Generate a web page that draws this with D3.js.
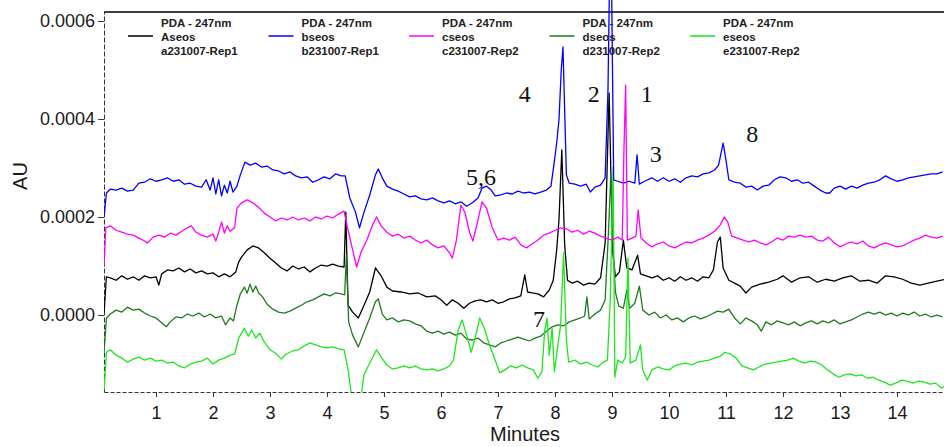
<!DOCTYPE html>
<html>
<head>
<meta charset="utf-8">
<script src="https://cdn.jsdelivr.net/npm/d3@7/dist/d3.min.js"></script>
<style>
body { margin: 0; background: #fff; overflow: hidden; }
svg { display: block; }
</style>
</head>
<body>
<script>
// absorbance values are in units of 1e-4 AU, pairs are [minutes, value]
let aseos = [[0.09,0.05],[0.13,0.78],[0.2,0.76],[0.3,0.71],[0.4,0.8],[0.5,0.73],[0.6,0.78],[0.7,0.71],[0.8,0.8],[0.9,0.76],[1.0,0.78],[1.05,0.61],[1.1,0.84],[1.2,0.92],[1.3,0.9],[1.4,0.96],[1.5,0.88],[1.6,0.94],[1.7,0.86],[1.8,0.9],[1.9,0.84],[2.0,0.86],[2.1,0.78],[2.2,0.84],[2.3,0.78],[2.4,0.88],[2.45,1.08],[2.5,1.18],[2.6,1.33],[2.7,1.41],[2.8,1.37],[2.9,1.27],[3.0,1.16],[3.1,1.06],[3.2,0.96],[3.3,0.9],[3.4,1.0],[3.5,0.94],[3.6,0.98],[3.7,0.88],[3.8,0.96],[3.9,1.02],[4.0,1.0],[4.1,1.04],[4.2,1.0],[4.3,0.98],[4.33,2.1],[4.37,0.2],[4.45,0.06],[4.55,-0.06],[4.65,0.2],[4.75,0.47],[4.85,0.96],[4.95,0.8],[5.05,0.57],[5.15,0.49],[5.3,0.47],[5.45,0.43],[5.6,0.45],[5.75,0.37],[5.9,0.39],[6.0,0.31],[6.1,0.2],[6.2,0.31],[6.3,0.24],[6.4,0.14],[6.5,0.24],[6.6,0.29],[6.7,0.31],[6.8,0.27],[6.9,0.31],[7.0,0.24],[7.1,0.27],[7.2,0.33],[7.3,0.35],[7.4,0.39],[7.47,0.82],[7.52,0.47],[7.6,0.45],[7.7,0.43],[7.8,0.37],[7.9,0.51],[7.97,0.71],[8.03,1.33],[8.07,1.94],[8.12,3.37],[8.17,1.43],[8.22,0.71],[8.3,0.65],[8.4,0.69],[8.5,0.61],[8.6,0.65],[8.7,0.63],[8.8,0.76],[8.88,1.47],[8.95,4.53],[9.01,1.33],[9.06,0.78],[9.13,0.88],[9.2,1.53],[9.26,0.96],[9.35,0.92],[9.45,1.22],[9.5,0.84],[9.6,0.8],[9.7,0.76],[9.8,0.8],[9.9,0.71],[10.0,0.76],[10.1,0.69],[10.2,0.78],[10.3,0.71],[10.4,0.76],[10.5,0.69],[10.6,0.78],[10.7,0.76],[10.78,0.92],[10.85,1.49],[10.9,1.59],[10.95,0.96],[11.05,0.71],[11.15,0.65],[11.25,0.59],[11.35,0.45],[11.45,0.57],[11.6,0.63],[11.75,0.67],[11.9,0.73],[12.0,0.8],[12.15,0.67],[12.3,0.76],[12.45,0.78],[12.6,0.67],[12.75,0.73],[12.9,0.69],[13.05,0.76],[13.2,0.8],[13.35,0.69],[13.5,0.71],[13.65,0.65],[13.8,0.8],[13.95,0.78],[14.1,0.73],[14.25,0.65],[14.4,0.61],[14.55,0.65],[14.7,0.69],[14.85,0.73]];

let bseos = [[0.09,2.0],[0.13,2.49],[0.2,2.57],[0.3,2.55],[0.4,2.59],[0.5,2.53],[0.6,2.55],[0.7,2.69],[0.8,2.71],[0.9,2.78],[1.0,2.73],[1.1,2.76],[1.2,2.8],[1.3,2.73],[1.4,2.76],[1.5,2.67],[1.6,2.69],[1.7,2.63],[1.8,2.61],[1.88,2.76],[1.95,2.55],[2.0,2.8],[2.05,2.47],[2.1,2.76],[2.15,2.43],[2.2,2.65],[2.25,2.49],[2.3,2.73],[2.35,2.51],[2.42,2.63],[2.48,2.86],[2.56,3.12],[2.65,3.06],[2.75,3.1],[2.85,3.02],[2.95,3.04],[3.05,2.96],[3.15,2.94],[3.25,2.88],[3.35,2.92],[3.45,2.84],[3.55,2.8],[3.65,2.82],[3.75,2.71],[3.85,2.76],[3.95,2.82],[4.05,2.78],[4.15,2.88],[4.25,2.84],[4.32,2.84],[4.4,2.39],[4.5,2.1],[4.57,1.78],[4.65,2.1],[4.75,2.45],[4.85,2.86],[4.9,2.98],[4.97,2.8],[5.05,2.63],[5.15,2.57],[5.25,2.53],[5.35,2.47],[5.45,2.41],[5.55,2.43],[5.65,2.37],[5.75,2.35],[5.85,2.39],[5.95,2.33],[6.05,2.29],[6.15,2.33],[6.25,2.27],[6.35,2.31],[6.45,2.22],[6.55,2.29],[6.65,2.39],[6.72,2.59],[6.8,2.63],[6.88,2.55],[6.95,2.43],[7.05,2.45],[7.15,2.49],[7.25,2.47],[7.35,2.53],[7.45,2.49],[7.55,2.51],[7.65,2.47],[7.75,2.51],[7.85,2.55],[7.93,2.63],[7.98,3.06],[8.03,3.51],[8.07,3.98],[8.11,5.0],[8.14,5.47],[8.17,4.18],[8.2,2.86],[8.25,2.69],[8.35,2.67],[8.45,2.63],[8.55,2.67],[8.62,2.51],[8.7,2.61],[8.8,2.65],[8.88,2.8],[8.93,4.59],[8.96,7.1],[8.99,7.1],[9.03,2.76],[9.1,2.73],[9.2,2.69],[9.3,2.73],[9.4,2.69],[9.44,3.27],[9.48,2.67],[9.57,2.73],[9.7,2.8],[9.8,2.73],[9.9,2.8],[10.0,2.73],[10.1,2.78],[10.2,2.71],[10.3,2.8],[10.4,2.84],[10.5,2.82],[10.6,2.88],[10.7,2.9],[10.8,2.96],[10.87,3.06],[10.95,3.51],[11.0,3.16],[11.05,2.76],[11.15,2.71],[11.25,2.69],[11.35,2.61],[11.45,2.63],[11.55,2.55],[11.65,2.63],[11.75,2.65],[11.85,2.76],[11.95,2.82],[12.05,2.8],[12.15,2.73],[12.25,2.76],[12.35,2.69],[12.45,2.71],[12.55,2.63],[12.65,2.55],[12.75,2.49],[12.82,2.49],[12.9,2.59],[13.0,2.63],[13.1,2.57],[13.2,2.63],[13.3,2.59],[13.4,2.65],[13.5,2.69],[13.6,2.71],[13.7,2.76],[13.8,2.84],[13.9,2.78],[14.0,2.73],[14.1,2.76],[14.2,2.8],[14.3,2.82],[14.4,2.84],[14.5,2.86],[14.6,2.88],[14.7,2.88],[14.8,2.92]];

let cseos = [[0.09,1.02],[0.12,1.78],[0.2,1.82],[0.3,1.73],[0.4,1.69],[0.5,1.65],[0.6,1.63],[0.7,1.57],[0.8,1.51],[0.85,1.47],[0.95,1.59],[1.05,1.63],[1.15,1.59],[1.25,1.67],[1.35,1.63],[1.45,1.71],[1.55,1.78],[1.62,1.82],[1.7,1.69],[1.8,1.63],[1.9,1.59],[2.0,1.65],[2.05,1.51],[2.1,1.69],[2.15,1.9],[2.2,1.67],[2.25,1.82],[2.3,1.71],[2.38,1.78],[2.42,2.18],[2.5,2.29],[2.6,2.35],[2.7,2.29],[2.8,2.2],[2.9,2.08],[3.0,2.0],[3.1,1.92],[3.2,1.98],[3.3,1.94],[3.4,2.0],[3.5,1.94],[3.6,1.98],[3.7,1.92],[3.8,2.0],[3.9,1.96],[4.0,2.02],[4.1,1.98],[4.2,2.06],[4.3,2.12],[4.37,1.73],[4.45,1.33],[4.52,0.98],[4.6,1.29],[4.7,1.53],[4.8,1.84],[4.87,2.0],[4.95,1.82],[5.05,1.69],[5.15,1.61],[5.25,1.65],[5.35,1.57],[5.45,1.61],[5.55,1.53],[5.65,1.47],[5.75,1.53],[5.85,1.43],[5.95,1.37],[6.05,1.41],[6.15,1.27],[6.2,1.16],[6.27,1.53],[6.35,2.24],[6.42,2.1],[6.5,1.69],[6.56,1.51],[6.63,1.84],[6.72,2.31],[6.8,2.18],[6.9,1.78],[7.0,1.53],[7.1,1.57],[7.2,1.53],[7.3,1.59],[7.4,1.43],[7.5,1.37],[7.6,1.45],[7.7,1.53],[7.8,1.63],[7.9,1.67],[8.0,1.73],[8.1,1.78],[8.2,1.76],[8.3,1.69],[8.4,1.73],[8.5,1.65],[8.6,1.71],[8.7,1.67],[8.8,1.61],[8.9,1.57],[9.0,1.53],[9.1,1.59],[9.18,1.53],[9.21,3.37],[9.24,4.69],[9.27,1.53],[9.35,1.57],[9.42,1.61],[9.46,2.14],[9.51,1.57],[9.6,1.47],[9.7,1.39],[9.8,1.45],[9.9,1.49],[10.0,1.41],[10.1,1.37],[10.2,1.43],[10.3,1.49],[10.4,1.47],[10.5,1.53],[10.6,1.57],[10.7,1.63],[10.8,1.71],[10.9,1.84],[10.97,2.0],[11.03,1.9],[11.1,1.61],[11.2,1.57],[11.3,1.53],[11.4,1.49],[11.5,1.53],[11.6,1.47],[11.7,1.43],[11.8,1.49],[11.9,1.57],[12.0,1.53],[12.1,1.61],[12.2,1.59],[12.3,1.63],[12.4,1.59],[12.5,1.61],[12.6,1.53],[12.7,1.51],[12.8,1.59],[12.9,1.47],[13.0,1.39],[13.1,1.45],[13.2,1.49],[13.3,1.45],[13.4,1.51],[13.5,1.41],[13.6,1.37],[13.7,1.43],[13.8,1.47],[13.9,1.43],[14.0,1.39],[14.1,1.41],[14.2,1.47],[14.3,1.53],[14.4,1.57],[14.5,1.63],[14.6,1.59],[14.7,1.57],[14.8,1.61]];

let dseos = [[0.09,-0.76],[0.13,-0.06],[0.2,0.02],[0.3,0.1],[0.4,0.06],[0.5,0.16],[0.6,0.1],[0.7,0.12],[0.8,0.04],[0.9,-0.02],[1.0,-0.06],[1.1,-0.16],[1.18,-0.24],[1.25,-0.14],[1.35,-0.04],[1.45,-0.06],[1.55,0.02],[1.65,-0.02],[1.75,0.04],[1.85,-0.04],[1.95,0.02],[2.05,-0.06],[2.15,-0.02],[2.22,-0.2],[2.3,-0.06],[2.36,-0.12],[2.42,0.2],[2.48,0.43],[2.55,0.57],[2.6,0.45],[2.65,0.63],[2.7,0.47],[2.75,0.59],[2.8,0.45],[2.87,0.37],[2.95,0.22],[3.05,0.12],[3.15,0.06],[3.25,0.04],[3.35,0.08],[3.45,0.14],[3.55,0.2],[3.65,0.27],[3.75,0.31],[3.85,0.37],[3.95,0.43],[4.05,0.39],[4.15,0.45],[4.25,0.43],[4.31,0.41],[4.34,1.22],[4.38,-0.14],[4.45,-0.41],[4.55,-0.65],[4.65,-0.35],[4.75,-0.06],[4.85,0.27],[4.9,0.33],[4.97,0.02],[5.05,-0.1],[5.15,-0.06],[5.25,-0.14],[5.35,-0.1],[5.45,-0.12],[5.55,-0.18],[5.65,-0.22],[5.75,-0.33],[5.85,-0.37],[5.95,-0.33],[6.05,-0.39],[6.15,-0.35],[6.25,-0.41],[6.35,-0.37],[6.45,-0.49],[6.55,-0.51],[6.65,-0.47],[6.75,-0.57],[6.85,-0.61],[6.95,-0.65],[7.05,-0.57],[7.15,-0.53],[7.25,-0.49],[7.35,-0.45],[7.45,-0.49],[7.55,-0.53],[7.65,-0.47],[7.75,-0.43],[7.85,-0.33],[7.95,-0.24],[8.05,-0.2],[8.15,-0.22],[8.25,-0.14],[8.35,-0.1],[8.45,-0.06],[8.52,-0.02],[8.56,0.37],[8.6,-0.08],[8.7,0.02],[8.8,0.1],[8.88,0.31],[8.94,1.73],[8.98,2.86],[9.02,1.33],[9.06,0.47],[9.12,0.18],[9.2,0.14],[9.26,0.51],[9.31,0.14],[9.4,0.24],[9.48,0.59],[9.54,0.1],[9.65,0.0],[9.75,0.06],[9.85,-0.06],[9.95,0.0],[10.05,-0.1],[10.15,-0.06],[10.25,-0.14],[10.35,-0.06],[10.45,-0.02],[10.55,-0.08],[10.65,-0.04],[10.75,0.02],[10.85,0.08],[10.95,0.06],[11.05,0.12],[11.15,-0.06],[11.25,-0.18],[11.35,-0.06],[11.45,-0.12],[11.55,-0.2],[11.62,-0.33],[11.7,-0.14],[11.8,-0.2],[11.9,-0.12],[12.0,-0.16],[12.1,-0.2],[12.2,-0.14],[12.3,-0.22],[12.4,-0.16],[12.5,-0.12],[12.6,-0.18],[12.7,-0.12],[12.8,-0.16],[12.9,-0.1],[13.0,-0.18],[13.1,-0.14],[13.2,-0.1],[13.3,-0.04],[13.4,0.02],[13.5,0.06],[13.6,0.02],[13.7,0.06],[13.8,0.0],[13.9,0.04],[14.0,-0.02],[14.1,0.04],[14.2,0.0],[14.3,0.06],[14.4,-0.02],[14.5,0.02],[14.6,-0.04],[14.7,0.0],[14.8,-0.04]];

let eseos = [[0.09,-1.53],[0.13,-0.76],[0.2,-0.71],[0.3,-0.82],[0.4,-0.88],[0.5,-0.96],[0.6,-0.9],[0.7,-0.86],[0.8,-0.92],[0.9,-0.88],[1.0,-0.94],[1.1,-0.92],[1.2,-0.98],[1.3,-0.96],[1.4,-1.04],[1.5,-1.08],[1.6,-1.0],[1.7,-0.96],[1.8,-0.94],[1.9,-0.88],[2.0,-1.0],[2.1,-0.92],[2.2,-0.88],[2.3,-0.82],[2.38,-0.8],[2.45,-0.47],[2.55,-0.27],[2.62,-0.43],[2.68,-0.31],[2.75,-0.47],[2.82,-0.37],[2.9,-0.55],[3.0,-0.71],[3.1,-0.78],[3.2,-0.9],[3.28,-0.8],[3.4,-0.73],[3.5,-0.71],[3.6,-0.63],[3.7,-0.57],[3.8,-0.61],[3.9,-0.65],[4.0,-0.67],[4.1,-0.65],[4.2,-0.69],[4.3,-0.71],[4.37,-1.12],[4.43,-1.63],[4.55,-1.73],[4.6,-1.63],[4.65,-1.22],[4.75,-0.98],[4.87,-0.71],[4.95,-0.86],[5.05,-1.02],[5.15,-1.1],[5.25,-1.08],[5.35,-1.04],[5.45,-1.08],[5.55,-1.04],[5.65,-1.1],[5.75,-1.12],[5.85,-1.1],[5.95,-1.14],[6.05,-1.1],[6.15,-1.04],[6.22,-0.92],[6.3,-0.31],[6.37,-0.1],[6.45,-0.41],[6.53,-0.76],[6.6,-0.47],[6.68,-0.06],[6.76,-0.27],[6.85,-0.61],[6.95,-0.92],[7.03,-1.18],[7.12,-1.12],[7.22,-1.04],[7.32,-1.08],[7.42,-1.02],[7.52,-1.08],[7.62,-1.12],[7.7,-1.29],[7.77,-1.16],[7.82,-0.31],[7.86,-0.06],[7.9,-0.82],[7.95,-0.27],[7.99,-1.16],[8.05,-0.61],[8.1,-0.2],[8.15,1.27],[8.2,-0.51],[8.24,-0.96],[8.35,-0.92],[8.45,-1.0],[8.55,-0.96],[8.65,-1.02],[8.75,-1.06],[8.85,-0.96],[8.92,-0.92],[8.97,0.31],[9.02,3.02],[9.05,-1.27],[9.1,-0.92],[9.18,-0.98],[9.24,-0.86],[9.28,1.16],[9.32,-0.98],[9.42,-0.92],[9.5,-0.61],[9.54,-1.12],[9.62,-1.33],[9.7,-1.12],[9.8,-1.06],[9.9,-1.1],[10.0,-1.12],[10.1,-1.04],[10.2,-1.0],[10.3,-0.98],[10.4,-1.02],[10.5,-0.96],[10.6,-0.94],[10.7,-0.92],[10.8,-0.88],[10.9,-0.84],[10.98,-0.76],[11.08,-0.8],[11.18,-0.88],[11.28,-1.04],[11.38,-1.08],[11.48,-1.12],[11.58,-1.06],[11.68,-1.0],[11.78,-0.98],[11.88,-0.96],[11.98,-0.94],[12.08,-0.92],[12.18,-0.88],[12.28,-0.94],[12.38,-0.98],[12.48,-0.94],[12.58,-0.96],[12.68,-1.02],[12.78,-1.12],[12.88,-1.2],[12.98,-1.27],[13.08,-1.22],[13.18,-1.2],[13.28,-1.24],[13.38,-1.22],[13.48,-1.29],[13.58,-1.27],[13.68,-1.33],[13.78,-1.37],[13.88,-1.43],[13.98,-1.39],[14.08,-1.33],[14.18,-1.35],[14.28,-1.39],[14.38,-1.35],[14.48,-1.37],[14.58,-1.41],[14.68,-1.39],[14.78,-1.49],[14.85,-1.45]];

let seriesNames = ["Aseos", "bseos", "cseos", "dseos", "eseos"];
let runNames = ["a231007-Rep1", "b231007-Rep1", "c231007-Rep2", "d231007-Rep2", "e231007-Rep2"];
let detector = "PDA - 247nm";
let xTicks = [1,2,3,4,5,6,7,8,9,10,11,12,13,14];
let yTicks = [0, 0.0002, 0.0004, 0.0006];
// peak numbers written on the figure, [label, minutes, value]
let peakLabels = [["4",7.47,4.35],["2",8.68,4.35],["1",9.61,4.35],["3",9.77,3.12],["8",11.46,3.53],["5,6",6.70,2.65],["7",7.72,-0.24]];

let allSeries = [aseos, bseos, cseos, dseos, eseos];
let colours = ["#000000", "#0000ff", "#ff00ff", "#1f7a1f", "#1ee61e"];
let drawOrder = [0, 3, 4, 1, 2];

let width = 944,
	height = 447,
	margin = {top: 12, right: 0, bottom: 55, left: 104},
	innerWidth = width - margin.left - margin.right,
	innerHeight = height - margin.top - margin.bottom;

let svg = d3.select("body").append("svg").attr("width", width).attr("height", height)
	.style("font-family", "'Liberation Sans', Arial, sans-serif");

let canvas = svg.append("g").attr("transform", "translate(" + margin.left + "," + margin.top + ")");

let x = d3.scaleLinear()
	.domain([0.088, 14.825])
	.range([0, innerWidth]);

let y = d3.scaleLinear()
	.domain([-0.0001571, 0.0006184])
	.range([innerHeight, 0]);

let line = d3.line()
	.x(function(d) { return x(d[0]); })
	.y(function(d) { return y(d[1] * 1e-4); });

svg.append("clipPath").attr("id", "plotclip")
	.append("rect").attr("x", 0).attr("y", -margin.top - 10).attr("width", innerWidth).attr("height", innerHeight + margin.top + 10);

// axes
let xAxis = canvas.append("g")
	.attr("transform", "translate(0," + innerHeight + ")")
	.call(d3.axisBottom(x).tickValues(xTicks).tickFormat(d3.format("d")).tickSize(5).tickSizeOuter(0).tickPadding(9));
xAxis.attr("font-size", 18).attr("font-family", null);
xAxis.select(".domain").attr("stroke", "#333").attr("stroke-dasharray", "4,2");
xAxis.selectAll(".tick line").attr("stroke", "#333");
xAxis.selectAll(".tick text").attr("fill", "#1a1a1a");

let yAxis = canvas.append("g")
	.call(d3.axisLeft(y).tickValues(yTicks).tickFormat(d3.format(".4f")).tickSize(6).tickSizeOuter(0).tickPadding(3));
yAxis.attr("font-size", 18).attr("font-family", null);
yAxis.select(".domain").attr("stroke", "#333").attr("stroke-dasharray", "5,2");
yAxis.selectAll(".tick line").attr("stroke", "#333");
yAxis.selectAll(".tick text").attr("fill", "#1a1a1a");

canvas.append("line")
	.attr("x1", 0).attr("x2", innerWidth).attr("y1", 0).attr("y2", 0)
	.attr("stroke", "#000").attr("stroke-width", 1.5);

// traces
canvas.append("g").attr("clip-path", "url(#plotclip)")
	.selectAll("path")
	.data(drawOrder)
	.enter().append("path")
	.attr("fill", "none")
	.attr("stroke", function(i) { return colours[i]; })
	.attr("stroke-width", 1.3)
	.attr("stroke-linejoin", "round")
	.attr("d", function(i) { return line(allSeries[i]); });

// peak numbers
canvas.selectAll(".peak")
	.data(peakLabels)
	.enter().append("text")
	.attr("class", "peak")
	.attr("x", function(d) { return x(d[1]); })
	.attr("y", function(d) { return y(d[2] * 1e-4); })
	.attr("text-anchor", "middle")
	.attr("font-family", "'Liberation Serif', 'Times New Roman', serif")
	.attr("font-size", 24)
	.attr("fill", "#111")
	.text(function(d) { return d[0]; });

// legend, one column per run
let legendRows = [];
seriesNames.forEach(function(name, i) {
	[detector, name, runNames[i]].forEach(function(r, j) {
		legendRows.push({col: i, row: j, text: r});
	});
});

svg.selectAll(".legend-line")
	.data(seriesNames)
	.enter().append("line")
	.attr("class", "legend-line")
	.attr("x1", function(d, i) { return 128 + i * 140.5; })
	.attr("x2", function(d, i) { return 153 + i * 140.5; })
	.attr("y1", 36).attr("y2", 36)
	.attr("stroke", function(d, i) { return colours[i]; })
	.attr("stroke-width", 1.5);

svg.selectAll(".legend-text")
	.data(legendRows)
	.enter().append("text")
	.attr("class", "legend-text")
	.attr("x", function(d) { return 161 + d.col * 140.5; })
	.attr("y", function(d) { return 27 + d.row * 14; })
	.attr("font-size", 11.5)
	.attr("font-weight", "bold")
	.attr("fill", "#222")
	.text(function(d) { return d.text; });

// axis titles
svg.append("text")
	.attr("transform", "translate(27,176) rotate(-90)")
	.attr("text-anchor", "middle")
	.attr("font-size", 20)
	.attr("fill", "#1a1a1a")
	.text("AU");

svg.append("text")
	.attr("x", 525)
	.attr("y", 441)
	.attr("text-anchor", "middle")
	.attr("font-size", 20)
	.attr("fill", "#1a1a1a")
	.text("Minutes");
</script>
</body>
</html>
